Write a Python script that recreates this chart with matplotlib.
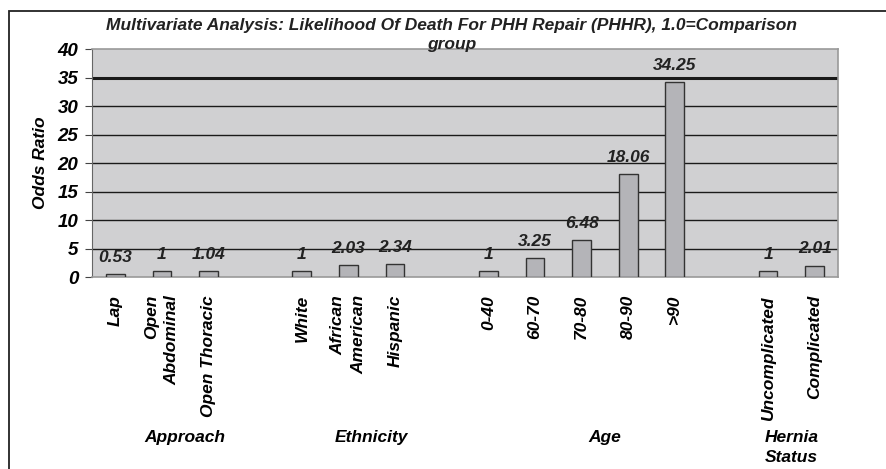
import numpy as np
import matplotlib
matplotlib.use("Agg")
import matplotlib.pyplot as plt
from matplotlib.patches import Rectangle
from matplotlib.transforms import blended_transform_factory

plt.rcParams['font.family'] = ['Liberation Sans', 'DejaVu Sans']

# one slot per category, blank slots separate the groups
labels = ["Lap", "Open\nAbdominal", "Open Thoracic", "",
          "White", "African\nAmerican", "Hispanic", "",
          "0-40", "60-70", "70-80", "80-90", ">90", "",
          "Uncomplicated", "Complicated"]
values = [0.53, 1, 1.04, np.nan,
          1, 2.03, 2.34, np.nan,
          1, 3.25, 6.48, 18.06, 34.25, np.nan,
          1, 2.01]
value_text = ["0.53", "1", "1.04", "",
              "1", "2.03", "2.34", "",
              "1", "3.25", "6.48", "18.06", "34.25", "",
              "1", "2.01"]
groups = ["Approach", "Ethnicity", "Age", "Hernia\nStatus"]
group_span = [(0, 3), (4, 7), (8, 13), (14, 15)]
yticks = [0, 5, 10, 15, 20, 25, 30, 35, 40]

W, H = 886, 469
fig = plt.figure(figsize=(W / 100, H / 100), dpi=100)
ax = fig.add_axes([92 / W, 1 - 277 / H, (838 - 92) / W, (277 - 49) / H])

# outer frame (cut off at right and bottom)
fig.add_artist(Rectangle((9 / W, -0.1), 1.2, 1 - 11 / H + 0.1,
                         transform=fig.transFigure, fill=False,
                         edgecolor="#222222", linewidth=1.3))

ax.set_facecolor("#d0d0d2")
x = np.arange(len(labels))
ax.bar(x, values, width=0.4, color="#b4b4b8", edgecolor="#333333",
       linewidth=1.0, zorder=3)

for xi, v, t in zip(x, values, value_text):
    if t:
        ax.text(xi, v + 1.6, t, ha="center", va="bottom", fontsize=12.5,
                fontweight="bold", fontstyle="italic", color="#222222",
                zorder=4)

ax.set_xlim(-0.5, len(labels) - 0.5)
ax.set_ylim(0, 40)
ax.set_yticks(yticks)
ax.set_yticklabels([str(t) for t in yticks], fontsize=13.5,
                   fontweight="bold", fontstyle="italic")
for t in yticks[1:-1]:
    ax.axhline(t, color="#1a1a1a", linewidth=2.2 if t == 35 else 1.0,
               zorder=1)
ax.tick_params(axis="y", length=5, width=0.8, color="#444444", pad=5)
ax.tick_params(axis="x", length=0, pad=13)
ax.set_xticks(x)
ax.set_xticklabels(labels, rotation=90, fontsize=12.5, fontweight="bold",
                   fontstyle="italic", va="top", ha="center",
                   multialignment="right", linespacing=1.45)
for s in ["top", "right", "bottom"]:
    ax.spines[s].set_color("#999999")
    ax.spines[s].set_linewidth(1.2)
ax.spines["left"].set_color("#666666")

ax.set_ylabel("Odds Ratio", fontsize=12.5, fontweight="bold",
              fontstyle="italic", labelpad=7)

trans = blended_transform_factory(ax.transData, ax.transAxes)
for g, (a, b) in zip(groups, group_span):
    ax.text((a + b) / 2, -(430 - 277) / 228, g, transform=trans,
            ha="center", va="top", fontsize=12.5, fontweight="bold",
            fontstyle="italic", linespacing=1.45)

fig.text(452 / W, 1 - 18 / H,
         "Multivariate Analysis: Likelihood Of Death For PHH Repair (PHHR), 1.0=Comparison\ngroup",
         ha="center", va="top", fontsize=12.5, fontweight="bold",
         fontstyle="italic", color="#222222", linespacing=1.3)

fig.savefig("out.png", dpi=100)
